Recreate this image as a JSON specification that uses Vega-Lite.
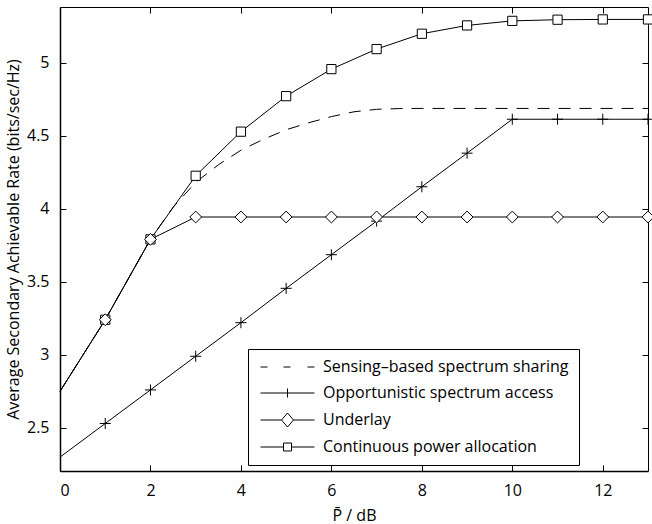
{
  "$schema": "https://vega.github.io/schema/vega-lite/v6.json",
  "width": 588,
  "height": 464,
  "autosize": {"type": "none"},
  "padding": {"left": 60, "top": 7, "right": 4, "bottom": 53},
  "background": "white",
  "config": {
    "font": "Open Sans",
    "view": {"stroke": null},
    "axis": {
      "grid": false,
      "domainColor": "black",
      "tickColor": "black",
      "labelColor": "black",
      "titleColor": "black",
      "labelFont": "Open Sans",
      "labelFontSize": 16,
      "titleFont": "Open Sans",
      "titleFontSize": 16,
      "titleFontWeight": "normal",
      "tickSize": -6,
      "tickWidth": 1,
      "domainWidth": 1.5,
      "labelPadding": 17
    }
  },
  "datasets": {
    "curves": [
      {"s": "Sensing–based spectrum sharing", "x": 0, "y": 2.75},
      {"s": "Sensing–based spectrum sharing", "x": 1, "y": 3.24},
      {"s": "Sensing–based spectrum sharing", "x": 2, "y": 3.79},
      {"s": "Sensing–based spectrum sharing", "x": 2.5, "y": 4.01},
      {"s": "Sensing–based spectrum sharing", "x": 3, "y": 4.18},
      {"s": "Sensing–based spectrum sharing", "x": 3.5, "y": 4.3},
      {"s": "Sensing–based spectrum sharing", "x": 4, "y": 4.4},
      {"s": "Sensing–based spectrum sharing", "x": 4.5, "y": 4.475},
      {"s": "Sensing–based spectrum sharing", "x": 5, "y": 4.54},
      {"s": "Sensing–based spectrum sharing", "x": 5.5, "y": 4.588},
      {"s": "Sensing–based spectrum sharing", "x": 6, "y": 4.63},
      {"s": "Sensing–based spectrum sharing", "x": 6.5, "y": 4.663},
      {"s": "Sensing–based spectrum sharing", "x": 7, "y": 4.68},
      {"s": "Sensing–based spectrum sharing", "x": 7.5, "y": 4.685},
      {"s": "Sensing–based spectrum sharing", "x": 8, "y": 4.686},
      {"s": "Sensing–based spectrum sharing", "x": 13, "y": 4.686},
      {"s": "Opportunistic spectrum access", "x": 0, "y": 2.3},
      {"s": "Opportunistic spectrum access", "x": 1, "y": 2.53},
      {"s": "Opportunistic spectrum access", "x": 2, "y": 2.76},
      {"s": "Opportunistic spectrum access", "x": 3, "y": 2.99},
      {"s": "Opportunistic spectrum access", "x": 4, "y": 3.22},
      {"s": "Opportunistic spectrum access", "x": 5, "y": 3.455},
      {"s": "Opportunistic spectrum access", "x": 6, "y": 3.685},
      {"s": "Opportunistic spectrum access", "x": 7, "y": 3.915},
      {"s": "Opportunistic spectrum access", "x": 8, "y": 4.15},
      {"s": "Opportunistic spectrum access", "x": 9, "y": 4.38},
      {"s": "Opportunistic spectrum access", "x": 10, "y": 4.612},
      {"s": "Opportunistic spectrum access", "x": 11, "y": 4.612},
      {"s": "Opportunistic spectrum access", "x": 12, "y": 4.612},
      {"s": "Opportunistic spectrum access", "x": 13, "y": 4.612},
      {"s": "Underlay", "x": 0, "y": 2.75},
      {"s": "Underlay", "x": 1, "y": 3.24},
      {"s": "Underlay", "x": 2, "y": 3.79},
      {"s": "Underlay", "x": 3, "y": 3.943},
      {"s": "Underlay", "x": 4, "y": 3.943},
      {"s": "Underlay", "x": 5, "y": 3.943},
      {"s": "Underlay", "x": 6, "y": 3.943},
      {"s": "Underlay", "x": 7, "y": 3.943},
      {"s": "Underlay", "x": 8, "y": 3.943},
      {"s": "Underlay", "x": 9, "y": 3.943},
      {"s": "Underlay", "x": 10, "y": 3.943},
      {"s": "Underlay", "x": 11, "y": 3.943},
      {"s": "Underlay", "x": 12, "y": 3.943},
      {"s": "Underlay", "x": 13, "y": 3.943},
      {"s": "Continuous power allocation", "x": 0, "y": 2.75},
      {"s": "Continuous power allocation", "x": 1, "y": 3.24},
      {"s": "Continuous power allocation", "x": 2, "y": 3.79},
      {"s": "Continuous power allocation", "x": 3, "y": 4.225},
      {"s": "Continuous power allocation", "x": 4, "y": 4.527},
      {"s": "Continuous power allocation", "x": 5, "y": 4.77},
      {"s": "Continuous power allocation", "x": 6, "y": 4.955},
      {"s": "Continuous power allocation", "x": 7, "y": 5.092},
      {"s": "Continuous power allocation", "x": 8, "y": 5.197},
      {"s": "Continuous power allocation", "x": 9, "y": 5.254},
      {"s": "Continuous power allocation", "x": 10, "y": 5.285},
      {"s": "Continuous power allocation", "x": 11, "y": 5.293},
      {"s": "Continuous power allocation", "x": 12, "y": 5.295},
      {"s": "Continuous power allocation", "x": 13, "y": 5.295}
    ]
  },
  "layer": [
    {
      "data": {"name": "curves"},
      "transform": [{"filter": "datum.s === 'Sensing–based spectrum sharing'"}],
      "mark": {"type": "line", "color": "black", "strokeWidth": 1, "strokeDash": [12, 9]},
      "encoding": {
        "x": {
          "field": "x", "type": "quantitative",
          "scale": {"domain": [0, 13], "nice": false, "zero": false},
          "axis": {"orient": "bottom", "values": [0, 2, 4, 6, 8, 10, 12], "title": "P̄  / dB", "titlePadding": 9}
        },
        "y": {
          "field": "y", "type": "quantitative",
          "scale": {"domain": [2.205, 5.38], "nice": false, "zero": false},
          "axis": {"orient": "left", "values": [2.5, 3, 3.5, 4, 4.5, 5], "format": "~g", "title": "Average Secondary Achievable Rate (bits/sec/Hz)", "titlePadding": 5}
        }
      }
    },
    {
      "data": {"name": "curves"},
      "transform": [{"filter": "datum.s !== 'Sensing–based spectrum sharing'"}],
      "mark": {"type": "line", "color": "black", "strokeWidth": 1},
      "encoding": {
        "x": {"field": "x", "type": "quantitative", "axis": {"orient": "top", "values": [0, 2, 4, 6, 8, 10, 12], "labels": false, "title": null, "domainWidth": 1}},
        "y": {"field": "y", "type": "quantitative", "axis": {"orient": "right", "values": [2.5, 3, 3.5, 4, 4.5, 5], "labels": false, "title": null, "domainWidth": 1}},
        "detail": {"field": "s"}
      }
    },
    {
      "data": {"name": "curves"},
      "transform": [{"filter": "datum.s === 'Opportunistic spectrum access' && datum.x >= 1"}],
      "mark": {"type": "point", "shape": "M-1,0H1M0,-1V1", "size": 121, "filled": false, "stroke": "black", "strokeWidth": 1, "opacity": 1},
      "encoding": {
        "x": {"field": "x", "type": "quantitative", "axis": null},
        "y": {"field": "y", "type": "quantitative", "axis": null}
      }
    },
    {
      "data": {"name": "curves"},
      "transform": [{"filter": "datum.s === 'Continuous power allocation' && datum.x >= 1"}],
      "mark": {"type": "point", "shape": "square", "size": 85, "fill": "white", "stroke": "black", "strokeWidth": 1, "opacity": 1},
      "encoding": {
        "x": {"field": "x", "type": "quantitative", "axis": null},
        "y": {"field": "y", "type": "quantitative", "axis": null}
      }
    },
    {
      "data": {"name": "curves"},
      "transform": [{"filter": "datum.s === 'Underlay' && datum.x >= 1"}],
      "mark": {"type": "point", "shape": "diamond", "size": 140, "fill": "white", "stroke": "black", "strokeWidth": 1, "opacity": 1},
      "encoding": {
        "x": {"field": "x", "type": "quantitative", "axis": null},
        "y": {"field": "y", "type": "quantitative", "axis": null}
      }
    },
    {
      "data": {"name": "curves"},
      "transform": [{"filter": "datum.x > 100"}],
      "mark": {"type": "point", "filled": false, "color": "black", "strokeWidth": 1, "size": 100, "opacity": 1},
      "encoding": {
        "shape": {
          "field": "s", "type": "nominal",
          "scale": {
            "domain": ["Sensing–based spectrum sharing", "Opportunistic spectrum access", "Underlay", "Continuous power allocation"],
            "range": [
              "M-1.1,0H0.3M3.5,0H4.9M8.3,0H9.7",
              "M-1.1,0H9.7M4.3,-0.9V0.9",
              "M-1.1,0H3.1M3.1,0L4.3,-1.4L5.5,0L4.3,1.4ZM5.5,0H9.7",
              "M-1.1,0H3.5M3.5,-0.8H5.1V0.8H3.5ZM5.1,0H9.7"
            ]
          },
          "legend": {
            "title": null,
            "orient": "none",
            "legendX": 188,
            "legendY": 342,
            "padding": 10,
            "strokeColor": "black",
            "fillColor": "white",
            "cornerRadius": 0,
            "symbolSize": 100,
            "symbolStrokeColor": "black",
            "symbolFillColor": "transparent",
            "symbolStrokeWidth": 1,
            "labelFont": "Open Sans",
            "labelFontSize": 16,
            "labelColor": "black",
            "labelOffset": 49,
            "labelLimit": 400,
            "rowPadding": 10
          }
        }
      }
    }
  ],
  "resolve": {"axis": {"x": "independent", "y": "independent"}}
}
